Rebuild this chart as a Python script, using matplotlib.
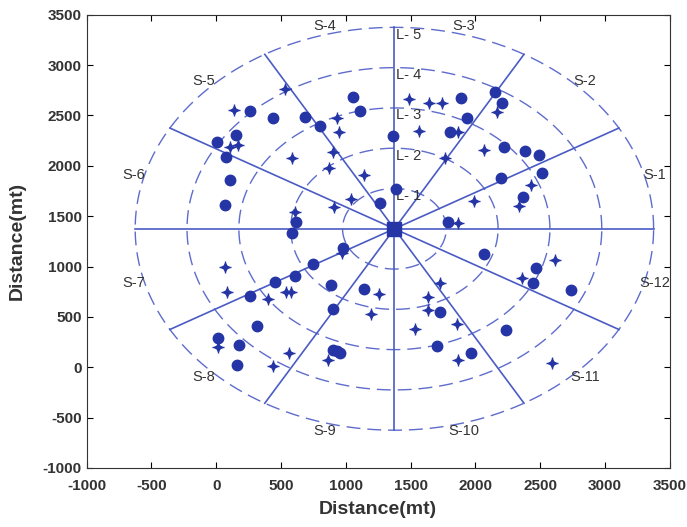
import numpy as np
import matplotlib
matplotlib.use("Agg")
import matplotlib.pyplot as plt

plt.rcParams["font.family"] = ["Liberation Sans", "DejaVu Sans"]
plt.rcParams["axes.unicode_minus"] = False

# ring radii (mt) and sector labels
center = (1375, 1375)
ring_radii = [400, 800, 1200, 1600, 2000]
ring_labels = ["L- 1", "L- 2", "L- 3", "L- 4", "L- 5"]
sector_labels = ["S-1", "S-2", "S-3", "S-4", "S-5", "S-6",
                 "S-7", "S-8", "S-9", "S-10", "S-11", "S-12"]

# filled circles
dots_x = [5, 150, 75, 105, 67, 262, 436, 683, 803, 614, 583, 1053, 1110, 1362, 1390, 1265,
          1888, 2154, 2208, 1938, 1805, 2224, 2385, 2490, 2516, 2200, 2370, 1792,
          13, 175, 159, 258, 452, 606, 745, 980, 883, 1137, 898, 314, 898, 952, 930,
          2069, 2470, 2447, 1730, 2238, 1707, 1969, 2740]
dots_y = [2240, 2310, 2090, 1860, 1610, 2547, 2477, 2487, 2393, 1444, 1335, 2686, 2547, 2298, 1765, 1633,
          2676, 2735, 2626, 2477, 2335, 2189, 2149, 2110, 1931, 1881, 1693, 1444,
          292, 223, 24, 709, 849, 908, 1027, 1180, 819, 779, 580, 412, 173, 143, 160,
          1122, 988, 839, 551, 372, 213, 143, 769]

# star points
stars_x = [137, 530, 166, 105, 936, 950, 898, 583, 874, 906, 610, 1137, 1040,
           1488, 1645, 1745, 2169, 1565, 1869, 2065, 1769, 2431, 1992, 2339, 1869,
           67, 82, 13, 398, 540, 575, 968, 1255, 1191, 560, 436, 860,
           2362, 1725, 1635, 1638, 1861, 1533, 1869, 2612, 2590]
stars_y = [2557, 2765, 2209, 2190, 2477, 2333, 2135, 2080, 1980, 1590, 1544, 1905, 1673,
           2666, 2626, 2626, 2537, 2348, 2338, 2155, 2080, 1812, 1653, 1604, 1434,
           998, 749, 203, 680, 749, 749, 1137, 725, 526, 143, 14, 74,
           884, 839, 700, 570, 432, 382, 69, 1067, 44]

line_col = "#4a5bc4"
ring_col = "#5e6ccc"
mark_col = "#2535a5"

fig = plt.figure(figsize=(6.87, 5.27), dpi=100)
ax = fig.add_axes([0.126, 0.112, 0.849, 0.86])

cx, cy = center
t = np.linspace(0, 2 * np.pi, 400)
for r in ring_radii:
    ax.plot(cx + r * np.cos(t), cy + r * np.sin(t), color=ring_col, lw=1.0,
            linestyle=(0, (10, 5)), zorder=1)

rmax = ring_radii[-1]
for k in range(12):
    a = np.deg2rad(30 * k)
    ax.plot([cx, cx + rmax * np.cos(a)], [cy, cy + rmax * np.sin(a)],
            color=line_col, lw=1.2, zorder=1)

for k, lab in enumerate(sector_labels):
    a = np.deg2rad(15 + 30 * k)
    ax.text(cx + 2080 * np.cos(a), cy + 2080 * np.sin(a), lab, fontsize=10.5,
            color="#333333", ha="center", va="center", zorder=2)

for r, lab in zip(ring_radii, ring_labels):
    ax.text(cx + 15, cy + r - 75, lab, fontsize=10.5, color="#333333",
            ha="left", va="center", zorder=2)

ax.plot(stars_x, stars_y, linestyle="none", marker=(4, 1, 0), markersize=6,
        color=mark_col, zorder=3)
ax.plot(stars_x, stars_y, linestyle="none", marker="+", markersize=9,
        markeredgewidth=1.0, color=mark_col, zorder=3)
ax.plot(dots_x, dots_y, linestyle="none", marker="o", markersize=7.5,
        color=mark_col, zorder=4)
ax.plot([cx], [cy], linestyle="none", marker="s", markersize=10, color=mark_col, zorder=5)

ax.set_xlim(-1000, 3500)
ax.set_ylim(-1000, 3500)
ax.set_xticks(np.arange(-1000, 3501, 500))
ax.set_yticks(np.arange(-1000, 3501, 500))
ax.tick_params(direction="in", top=True, right=True, labelsize=11, length=4,
               labelcolor="#333333")
ax.tick_params(axis="x", pad=8)
for lbl in ax.get_xticklabels() + ax.get_yticklabels():
    lbl.set_fontweight("bold")
for s in ax.spines.values():
    s.set_color("#333333")
ax.set_xlabel("Distance(mt)", fontsize=14, fontweight="bold", color="#333333", labelpad=6)
ax.set_ylabel("Distance(mt)", fontsize=14, fontweight="bold", color="#333333", labelpad=12)

fig.savefig("out.png", dpi=100)
